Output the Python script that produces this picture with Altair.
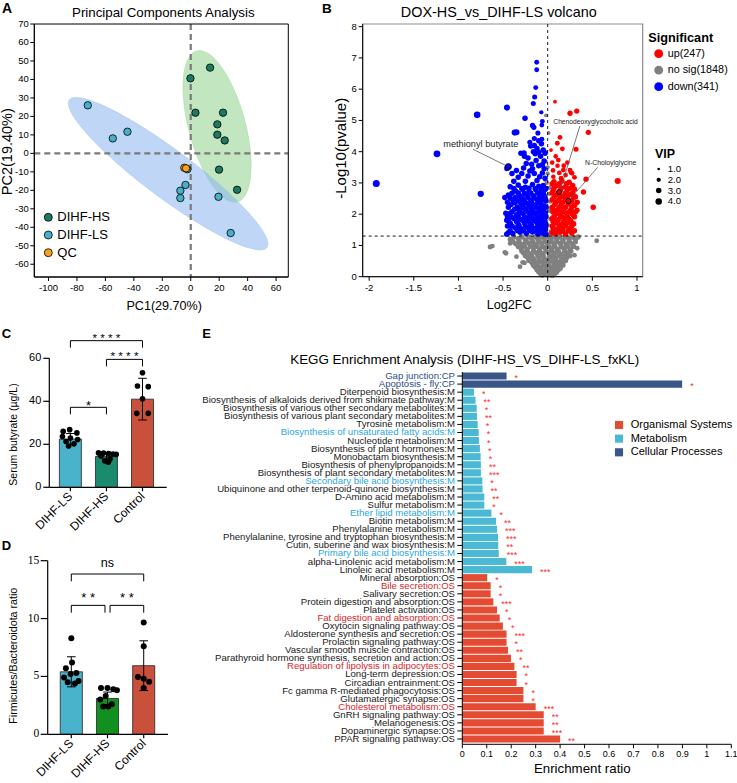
import altair as alt
import numpy as np
import pandas as pd

FONT = "Liberation Sans"
SERIF = "Liberation Serif"
W, H = 737, 783

# ======================= DATA =======================
# ---- A: PCA scores ----
pca_group = ["DIHF-LS"] * 9 + ["DIHF-HS"] * 9 + ["QC"] * 2
pca_pc1 = [-72.4, -54.8, -44.5, -3.7, -7.3, -7.3, 19.5, 28.1, -2.4,
           13.6, -0.2, 3.3, 22.7, 18.7, 18.7, 23.9, 19.9, 32.6,
           -4.5, -3.3]
pca_pc2 = [26.0, 8.1, 11.7, -17.1, -20.2, -24.2, -23.5, -43.1, -8.6,
           46.4, 40.6, 22.0, 22.0, 15.7, 10.1, 7.0, -8.8, -19.7,
           -7.8, -8.1]
group_names = ["DIHF-HS", "DIHF-LS", "QC"]
group_colors = ["#1d7a62", "#46b0ca", "#f5a31c"]
pc1_ticks = list(range(-100, 61, 20))
pc2_ticks = list(range(-60, 71, 10))
# confidence ellipses: centre, major and minor half-axis vectors
ell_group = ["DIHF-HS", "DIHF-LS"]
ell_center = [(18.5, 14.6), (-15.9, -11.0)]
ell_major = [(14.3, -40.8), (69.4, -39.9)]
ell_minor = [(19.2, 4.0), (10.1, 10.4)]
ell_fill = ["#8fd18a", "#8ab4f0"]

# ---- B: volcano (log2FC, -log10 p, VIP) ----
down_pts = [
    (-1.92, 2.98, 4.6), (-1.24, 3.93, 4.4), (-0.79, 5.18, 4.2), (-0.75, 2.65, 3.8),
    (-0.456, 5.41, 3.6), (-0.254, 5.07, 3.0), (-0.37, 4.61, 3.6), (-0.35, 4.62, 3.6),
    (-0.265, 3.96, 3.0), (-0.123, 6.86, 2.5), (-0.123, 6.62, 2.5), (-0.134, 6.05, 2.5),
    (-0.146, 5.75, 2.6), (-0.161, 5.54, 2.6), (-0.072, 5.26, 2.0), (-0.06, 4.97, 2.4),
    (-0.066, 4.85, 2.4), (-0.17, 4.84, 2.8), (-0.155, 4.78, 2.8), (-0.15, 4.42, 2.6),
    (-0.065, 4.40, 2.4), (-0.48, 2.53, 3.0), (-0.47, 2.03, 2.8), (-0.46, 1.81, 2.8),
    (-0.46, 1.36, 2.8), (-0.11, 4.60, 2.6), (-0.20, 4.30, 2.6), (-0.455, 3.47, 3.4),
    (-0.30, 3.95, 3.0), (-0.22, 3.80, 3.0), (-0.12, 4.10, 3.0), (-0.05, 4.05, 3.0),
    (-0.08, 3.85, 3.0), (-0.18, 3.60, 3.0), (-0.27, 3.48, 3.0), (-0.10, 3.55, 3.0),
    (-0.04, 3.70, 3.0), (-0.15, 3.30, 3.0), (-0.22, 3.22, 3.0), (-0.33, 3.18, 3.0),
    (-0.06, 3.32, 3.0), (-0.12, 3.08, 3.0), (-0.38, 3.05, 3.0), (-0.03, 3.15, 3.0),
    (-0.19, 4.18, 3.0), (-0.07, 4.25, 3.0), (-0.14, 3.93, 3.0), (-0.25, 3.05, 3.0),
    (-0.09, 3.20, 3.0), (-0.17, 3.45, 3.0), (-0.04, 3.45, 3.0), (-0.29, 3.30, 3.0),
    (-0.35, 3.40, 3.0), (-0.24, 3.62, 3.0), (-0.13, 3.72, 3.0), (-0.06, 3.58, 3.0),
    (-0.20, 3.38, 3.0), (-0.10, 3.98, 3.0), (-0.03, 3.95, 3.0), (-0.26, 3.85, 3.0),
    (-0.16, 4.00, 3.0), (-0.40, 3.30, 3.0), (-0.10, 4.35, 3.0), (-0.15, 4.20, 3.0),
    (-0.42, 2.88, 3.0), (-0.33, 2.93, 3.0), (-0.25, 2.86, 3.0), (-0.17, 2.95, 3.0),
    (-0.10, 2.89, 3.0), (-0.05, 2.92, 3.0), (-0.38, 2.82, 3.0), (-0.29, 2.82, 3.0),
    (-0.21, 2.83, 3.0), (-0.14, 2.81, 3.0), (-0.07, 2.84, 3.0), (-0.02, 2.82, 3.0),
    (-0.36, 2.74, 3.0), (-0.28, 2.78, 3.0), (-0.21, 2.72, 3.0), (-0.13, 2.77, 3.0),
    (-0.07, 2.73, 3.0), (-0.03, 2.79, 3.0), (-0.40, 2.67, 3.0), (-0.33, 2.68, 3.0),
    (-0.26, 2.66, 3.0), (-0.19, 2.68, 3.0), (-0.11, 2.67, 3.0), (-0.05, 2.68, 3.0),
    (-0.44, 2.61, 3.0), (-0.31, 2.58, 3.0), (-0.24, 2.63, 3.0), (-0.16, 2.59, 3.0),
    (-0.09, 2.62, 3.0), (-0.04, 2.57, 3.0), (-0.42, 2.52, 3.0), (-0.36, 2.53, 3.0),
    (-0.29, 2.51, 3.0), (-0.22, 2.53, 3.0), (-0.15, 2.52, 3.0), (-0.09, 2.51, 3.0),
    (-0.03, 2.52, 3.0), (-0.39, 2.46, 3.0), (-0.34, 2.43, 3.0), (-0.27, 2.47, 3.0),
    (-0.19, 2.44, 3.0), (-0.12, 2.48, 3.0), (-0.06, 2.45, 3.0), (-0.02, 2.42, 3.0),
    (-0.45, 2.38, 3.0), (-0.37, 2.37, 3.0), (-0.31, 2.38, 3.0), (-0.25, 2.37, 3.0),
    (-0.18, 2.38, 3.0), (-0.11, 2.37, 3.0), (-0.41, 2.31, 3.0), (-0.29, 2.28, 3.0),
    (-0.22, 2.32, 3.0), (-0.15, 2.29, 3.0), (-0.08, 2.33, 3.0), (-0.04, 2.27, 3.0),
    (-0.44, 2.22, 3.0), (-0.34, 2.23, 3.0), (-0.27, 2.21, 3.0), (-0.20, 2.23, 3.0),
    (-0.13, 2.22, 3.0), (-0.07, 2.21, 3.0), (-0.02, 2.22, 3.0), (-0.37, 2.16, 3.0),
    (-0.32, 2.13, 3.0), (-0.25, 2.17, 3.0), (-0.18, 2.14, 3.0), (-0.11, 2.18, 3.0),
    (-0.05, 2.12, 3.0), (-0.40, 2.08, 3.0), (-0.31, 2.07, 3.0), (-0.23, 2.08, 3.0),
    (-0.16, 2.07, 3.0), (-0.09, 2.08, 3.0), (-0.04, 2.07, 3.0), (-0.43, 2.01, 3.0),
    (-0.35, 1.98, 3.0), (-0.28, 2.03, 3.0), (-0.20, 1.99, 3.0), (-0.13, 2.02, 3.0),
    (-0.07, 1.97, 3.0), (-0.03, 2.04, 3.0), (-0.45, 1.93, 3.0), (-0.41, 1.92, 3.0),
    (-0.33, 1.93, 3.0), (-0.26, 1.92, 3.0), (-0.18, 1.93, 3.0), (-0.12, 1.92, 3.0),
    (-0.02, 1.93, 3.0), (-0.38, 1.86, 3.0), (-0.30, 1.83, 3.0), (-0.23, 1.87, 3.0),
    (-0.16, 1.84, 3.0), (-0.10, 1.88, 3.0), (-0.05, 1.82, 3.0), (-0.44, 1.78, 3.0),
    (-0.35, 1.77, 3.0), (-0.27, 1.78, 3.0), (-0.21, 1.77, 3.0), (-0.14, 1.78, 3.0),
    (-0.08, 1.77, 3.0), (-0.03, 1.78, 3.0), (-0.42, 1.71, 3.0), (-0.33, 1.68, 3.0),
    (-0.26, 1.72, 3.0), (-0.19, 1.69, 3.0), (-0.12, 1.73, 3.0), (-0.07, 1.67, 3.0),
    (-0.03, 1.70, 3.0), (-0.45, 1.62, 3.0), (-0.40, 1.62, 3.0), (-0.32, 1.63, 3.0),
    (-0.25, 1.62, 3.0), (-0.18, 1.63, 3.0), (-0.11, 1.62, 3.0), (-0.06, 1.63, 3.0),
    (-0.02, 1.62, 3.0), (-0.36, 1.56, 3.0), (-0.29, 1.53, 3.0), (-0.22, 1.57, 3.0),
    (-0.15, 1.54, 3.0), (-0.09, 1.58, 3.0), (-0.04, 1.52, 3.0), (-0.42, 1.47, 3.0),
    (-0.34, 1.48, 3.0), (-0.27, 1.47, 3.0), (-0.20, 1.48, 3.0), (-0.13, 1.47, 3.0),
    (-0.08, 1.48, 3.0), (-0.03, 1.47, 3.0), (-0.44, 1.41, 3.0), (-0.39, 1.38, 3.0),
    (-0.31, 1.42, 3.0), (-0.24, 1.39, 3.0), (-0.17, 1.43, 3.0), (-0.11, 1.37, 3.0),
    (-0.06, 1.40, 3.0), (-0.02, 1.36, 3.0),
]
up_pts = [
    (0.082, 5.60, 1.6), (0.25, 5.23, 2.8), (0.325, 5.30, 2.8), (0.455, 4.62, 2.8),
    (0.138, 4.46, 2.4), (0.108, 4.27, 2.4), (0.164, 4.09, 2.4), (0.317, 4.08, 2.6),
    (0.037, 4.05, 1.6), (0.119, 3.73, 2.4), (0.175, 3.41, 2.4), (0.25, 3.41, 2.4),
    (0.272, 3.31, 2.4), (0.429, 3.12, 2.8), (0.784, 3.06, 3.6), (0.063, 3.20, 2.2),
    (0.40, 2.71, 2.8), (0.51, 2.22, 3.0), (0.33, 2.13, 2.6), (0.26, 3.33, 2.4),
    (0.30, 3.18, 2.4), (0.20, 3.25, 2.4), (0.15, 3.15, 2.4), (0.11, 3.55, 2.2),
    (0.22, 3.65, 2.2), (0.06, 3.40, 2.4), (0.13, 3.32, 2.4), (0.09, 3.85, 2.2),
    (0.18, 3.55, 2.4), (0.05, 3.65, 2.2),
    (0.07, 3.04, 3.0), (0.16, 3.06, 3.0), (0.24, 3.02, 3.0), (0.05, 2.97, 3.0),
    (0.13, 2.97, 3.0), (0.21, 2.97, 3.0), (0.10, 2.91, 3.0), (0.20, 2.88, 3.0),
    (0.28, 2.92, 3.0), (0.07, 2.83, 3.0), (0.15, 2.83, 3.0), (0.25, 2.83, 3.0),
    (0.06, 2.76, 3.0), (0.14, 2.74, 3.0), (0.22, 2.78, 3.0), (0.30, 2.80, 3.0),
    (0.05, 2.68, 3.0), (0.12, 2.68, 3.0), (0.20, 2.68, 3.0), (0.28, 2.68, 3.0),
    (0.09, 2.61, 3.0), (0.17, 2.58, 3.0), (0.25, 2.63, 3.0), (0.31, 2.56, 3.0),
    (0.07, 2.53, 3.0), (0.14, 2.53, 3.0), (0.22, 2.53, 3.0), (0.29, 2.53, 3.0),
    (0.05, 2.46, 3.0), (0.12, 2.44, 3.0), (0.20, 2.48, 3.0), (0.27, 2.43, 3.0),
    (0.09, 2.38, 3.0), (0.17, 2.38, 3.0), (0.25, 2.38, 3.0), (0.33, 2.38, 3.0),
    (0.08, 2.31, 3.0), (0.15, 2.29, 3.0), (0.23, 2.33, 3.0), (0.30, 2.28, 3.0),
    (0.05, 2.22, 3.0), (0.13, 2.22, 3.0), (0.20, 2.22, 3.0), (0.27, 2.22, 3.0),
    (0.06, 2.16, 3.0), (0.11, 2.13, 3.0), (0.18, 2.17, 3.0), (0.26, 2.14, 3.0),
    (0.06, 2.07, 3.0), (0.16, 2.07, 3.0), (0.24, 2.07, 3.0), (0.31, 2.07, 3.0),
    (0.09, 2.01, 3.0), (0.14, 1.98, 3.0), (0.21, 2.03, 3.0), (0.28, 1.99, 3.0),
    (0.07, 1.92, 3.0), (0.16, 1.92, 3.0), (0.22, 1.92, 3.0), (0.30, 1.92, 3.0),
    (0.05, 1.86, 3.0), (0.12, 1.83, 3.0), (0.19, 1.87, 3.0), (0.24, 1.84, 3.0),
    (0.06, 1.77, 3.0), (0.10, 1.77, 3.0), (0.18, 1.77, 3.0), (0.26, 1.77, 3.0),
    (0.08, 1.71, 3.0), (0.15, 1.68, 3.0), (0.22, 1.72, 3.0), (0.29, 1.69, 3.0),
    (0.05, 1.62, 3.0), (0.13, 1.62, 3.0), (0.20, 1.62, 3.0), (0.27, 1.62, 3.0),
    (0.06, 1.56, 3.0), (0.11, 1.53, 3.0), (0.17, 1.57, 3.0), (0.25, 1.54, 3.0),
    (0.07, 1.47, 3.0), (0.12, 1.47, 3.0), (0.17, 1.47, 3.0), (0.23, 1.47, 3.0),
    (0.30, 1.47, 3.0), (0.05, 1.41, 3.0), (0.09, 1.38, 3.0), (0.14, 1.42, 3.0),
    (0.20, 1.37, 3.0), (0.27, 1.40, 3.0),
]
nosig_pts = [
    (0.549, 1.15, 2.4), (0.33, 0.91, 2.4), (-0.646, 0.95, 2.4), (-0.62, 0.98, 2.4),
    (-0.48, 0.78, 2.4), (-0.28, 0.46, 2.4), (-0.26, 0.44, 2.4), (0.30, 0.69, 2.4),
    (-0.467, 0.75, 2.4), (-0.42, 1.07, 2.4), (-0.35, 0.64, 2.4), (-0.31, 0.32, 2.4),
    (-0.02, 5.16, 1.6), (-0.02, 4.00, 1.8), (0.01, 4.60, 1.6), (-0.02, 3.68, 1.8),
    (0.00, 3.30, 2.0), (-0.01, 3.00, 2.0), (0.02, 2.85, 2.0), (-0.02, 2.60, 2.0),
    (0.03, 2.40, 2.0), (0.00, 2.20, 2.0), (-0.02, 2.00, 2.0), (0.03, 1.85, 2.0),
    (0.00, 1.65, 2.0), (-0.02, 1.50, 2.0), (0.035, 1.45, 2.0), (0.02, 2.65, 2.0),
    (-0.03, 3.10, 2.0), (0.01, 1.35, 2.0), (0.02, 2.10, 2.0), (0.00, 3.50, 1.8),
    (-0.38, 1.27, 2.8), (-0.29, 1.27, 2.8), (-0.21, 1.27, 2.8), (-0.14, 1.27, 2.8),
    (-0.07, 1.27, 2.8), (0.00, 1.27, 2.8), (0.06, 1.27, 2.8), (0.13, 1.27, 2.8),
    (0.20, 1.27, 2.8), (0.28, 1.27, 2.8), (0.34, 1.27, 2.8),
    (-0.42, 1.19, 2.8), (-0.33, 1.22, 2.8), (-0.25, 1.18, 2.8), (-0.18, 1.23, 2.8),
    (-0.11, 1.20, 2.8), (-0.04, 1.24, 2.8), (0.03, 1.19, 2.8), (0.10, 1.22, 2.8),
    (0.17, 1.18, 2.8), (0.24, 1.21, 2.8), (0.31, 1.20, 2.8),
    (-0.39, 1.12, 2.8), (-0.32, 1.12, 2.8), (-0.24, 1.12, 2.8), (-0.17, 1.12, 2.8),
    (-0.10, 1.12, 2.8), (-0.03, 1.12, 2.8), (0.04, 1.12, 2.8), (0.10, 1.12, 2.8),
    (0.17, 1.12, 2.8), (0.24, 1.12, 2.8), (0.31, 1.12, 2.8),
    (-0.36, 1.06, 2.8), (-0.28, 1.03, 2.8), (-0.21, 1.07, 2.8), (-0.14, 1.04, 2.8),
    (-0.07, 1.08, 2.8), (0.00, 1.05, 2.8), (0.07, 1.03, 2.8), (0.14, 1.07, 2.8),
    (0.21, 1.04, 2.8), (0.27, 1.06, 2.8),
    (-0.33, 0.97, 2.8), (-0.26, 0.97, 2.8), (-0.19, 0.97, 2.8), (-0.12, 0.97, 2.8),
    (-0.06, 0.97, 2.8), (0.01, 0.97, 2.8), (0.08, 0.97, 2.8), (0.15, 0.97, 2.8),
    (0.22, 0.97, 2.8), (0.29, 0.97, 2.8),
    (-0.30, 0.91, 2.8), (-0.23, 0.88, 2.8), (-0.16, 0.92, 2.8), (-0.09, 0.89, 2.8),
    (-0.03, 0.93, 2.8), (0.04, 0.90, 2.8), (0.11, 0.87, 2.8), (0.18, 0.91, 2.8),
    (0.25, 0.89, 2.8),
    (-0.29, 0.82, 2.8), (-0.23, 0.82, 2.8), (-0.16, 0.82, 2.8), (-0.09, 0.82, 2.8),
    (-0.02, 0.82, 2.8), (0.05, 0.82, 2.8), (0.12, 0.82, 2.8), (0.19, 0.82, 2.8),
    (0.26, 0.82, 2.8),
    (-0.27, 0.76, 2.8), (-0.20, 0.73, 2.8), (-0.13, 0.77, 2.8), (-0.06, 0.74, 2.8),
    (0.01, 0.78, 2.8), (0.08, 0.75, 2.8), (0.15, 0.72, 2.8), (0.22, 0.76, 2.8),
    (-0.25, 0.67, 2.8), (-0.18, 0.67, 2.8), (-0.11, 0.67, 2.8), (-0.05, 0.67, 2.8),
    (0.02, 0.67, 2.8), (0.06, 0.67, 2.8), (0.13, 0.67, 2.8), (0.20, 0.67, 2.8),
    (0.25, 0.67, 2.8),
    (-0.22, 0.61, 2.8), (-0.16, 0.58, 2.8), (-0.10, 0.62, 2.8), (-0.04, 0.59, 2.8),
    (0.03, 0.63, 2.8), (0.09, 0.60, 2.8), (0.16, 0.57, 2.8), (0.21, 0.61, 2.8),
    (-0.21, 0.52, 2.8), (-0.15, 0.52, 2.8), (-0.09, 0.52, 2.8), (-0.03, 0.52, 2.8),
    (0.03, 0.52, 2.8), (0.09, 0.52, 2.8), (0.15, 0.52, 2.8), (0.20, 0.52, 2.8),
    (-0.18, 0.46, 2.8), (-0.12, 0.43, 2.8), (-0.06, 0.47, 2.8), (0.00, 0.44, 2.8),
    (0.06, 0.48, 2.8), (0.12, 0.45, 2.8), (0.17, 0.42, 2.8),
    (-0.16, 0.37, 2.8), (-0.11, 0.37, 2.8), (-0.05, 0.37, 2.8), (0.01, 0.37, 2.8),
    (0.07, 0.37, 2.8), (0.12, 0.37, 2.8), (0.17, 0.37, 2.8),
    (-0.14, 0.31, 2.8), (-0.08, 0.28, 2.8), (-0.02, 0.32, 2.8), (0.04, 0.29, 2.8),
    (0.10, 0.33, 2.8), (0.14, 0.27, 2.8),
    (-0.12, 0.22, 2.8), (-0.07, 0.22, 2.8), (-0.02, 0.22, 2.8), (0.03, 0.22, 2.8),
    (0.08, 0.22, 2.8), (0.12, 0.22, 2.8),
    (-0.10, 0.16, 2.8), (-0.05, 0.13, 2.8), (0.00, 0.17, 2.8), (0.05, 0.14, 2.8),
    (0.10, 0.15, 2.8), (-0.08, 0.10, 2.8), (-0.03, 0.10, 2.8), (0.03, 0.10, 2.8),
    (0.08, 0.10, 2.8), (-0.06, 0.05, 2.8), (0.00, 0.06, 2.8), (0.05, 0.04, 2.8),
]
# labelled metabolites: name, log2FC, -log10 p, VIP, direction
lab_names = ["methionyl butyrate", "Chenodeoxyglycocholic acid", "N-Choloylglycine"]
lab_fc = [-0.441, 0.127, 0.231]
lab_p = [3.52, 2.71, 2.42]
lab_vip = [3.6, 2.4, 2.6]
lab_dir = ["down", "up", "up"]
sig_labels = ["up(247)", "no sig(1848)", "down(341)"]
sig_colors = ["#ff0000", "#808080", "#0000ff"]
vip_legend = [1.0, 2.0, 3.0, 4.0]
p_threshold = 1.3
fc_ticks = [-2, -1.5, -1, -0.5, 0, 0.5, 1]
logp_ticks = list(range(0, 9))

# ---- C: serum butyrate ----
bar_groups = ["DIHF-LS", "DIHF-HS", "Control"]
c_mean = [22.4, 14.3, 41.0]
c_sd = [2.6, 1.6, 9.7]
c_colors = ["#4ab3cc", "#1b8b6e", "#c9513c"]
c_vals = [[26.8, 26.0, 25.3, 23.6, 22.9, 22.2, 21.3, 20.2, 19.2],
          [16.0, 15.9, 15.7, 15.5, 15.3, 14.6, 13.2, 12.3, 11.7],
          [53.3, 47.1, 46.8, 41.2, 34.4, 34.4]]
c_jit = [[-0.02, -0.20, 0.18, -0.22, 0.00, 0.20, -0.12, 0.10, -0.05],
         [-0.22, -0.08, 0.06, 0.18, 0.27, -0.15, 0.10, -0.05, 0.05],
         [0.0, -0.14, 0.16, 0.0, -0.16, 0.16]]
c_ticks = [0, 20, 40, 60]
c_br_x1 = [0, 1, 0]
c_br_x2 = [2, 2, 1]
c_br_y = [68.2, 59.5, 37.2]
c_br_lab = ["* * * *", "* * * *", "*"]

# ---- D: Firmicutes/Bacteroidota ----
d_mean = [5.4, 3.1, 5.93]
d_sd = [1.3, 0.55, 2.15]
d_colors = ["#4ab3cc", "#12901f", "#c9513c"]
d_vals = [[8.3, 6.2, 5.7, 5.3, 5.2, 4.9, 4.6, 4.5, 4.4],
          [4.0, 4.0, 3.9, 3.8, 3.3, 3.0, 2.6, 2.4, 2.4],
          [9.65, 7.6, 4.95, 4.8, 4.55, 4.0]]
d_jit = [[0.0, 0.02, -0.15, 0.14, -0.02, -0.20, 0.20, -0.10, 0.10],
         [-0.18, 0.0, 0.16, 0.26, -0.05, -0.20, 0.12, -0.12, 0.02],
         [0.0, 0.0, -0.16, 0.0, 0.15, 0.0]]
d_ticks = [0, 5, 10, 15]
d_br_x1 = [0, 0, 1.07]
d_br_x2 = [2, 0.93, 2]
d_br_y = [13.85, 11.14, 11.14]
d_br_lab = ["ns", "* *", "* *"]

# ---- E: KEGG enrichment ----
kegg_terms = [
    "Gap junction:CP", "Apoptosis - fly:CP", "Diterpenoid biosynthesis:M",
    "Biosynthesis of alkaloids derived from shikimate pathway:M",
    "Biosynthesis of various other secondary metabolites:M",
    "Biosynthesis of various plant secondary metabolites:M", "Tyrosine metabolism:M",
    "Biosynthesis of unsaturated fatty acids:M", "Nucleotide metabolism:M",
    "Biosynthesis of plant hormones:M", "Monobactam biosynthesis:M",
    "Biosynthesis of phenylpropanoids:M", "Biosynthesis of plant secondary metabolites:M",
    "Secondary bile acid biosynthesis:M", "Ubiquinone and other terpenoid-quinone biosynthesis:M",
    "D-Amino acid metabolism:M", "Sulfur metabolism:M", "Ether lipid metabolism:M",
    "Biotin metabolism:M", "Phenylalanine metabolism:M",
    "Phenylalanine, tyrosine and tryptophan biosynthesis:M",
    "Cutin, suberine and wax biosynthesis:M", "Primary bile acid biosynthesis:M",
    "alpha-Linolenic acid metabolism:M", "Linoleic acid metabolism:M",
    "Mineral absorption:OS", "Bile secretion:OS", "Salivary secretion:OS",
    "Protein digestion and absorption:OS", "Platelet activation:OS",
    "Fat digestion and absorption:OS", "Oxytocin signaling pathway:OS",
    "Aldosterone synthesis and secretion:OS", "Prolactin signaling pathway:OS",
    "Vascular smooth muscle contraction:OS",
    "Parathyroid hormone synthesis, secretion and action:OS",
    "Regulation of lipolysis in adipocytes:OS", "Long-term depression:OS",
    "Circadian entrainment:OS", "Fc gamma R-mediated phagocytosis:OS",
    "Glutamatergic synapse:OS", "Cholesterol metabolism:OS", "GnRH signaling pathway:OS",
    "Melanogenesis:OS", "Dopaminergic synapse:OS", "PPAR signaling pathway:OS",
]
kegg_ratio = [0.181, 0.899, 0.048, 0.054, 0.059, 0.060, 0.063, 0.067, 0.068, 0.072,
              0.075, 0.076, 0.076, 0.082, 0.083, 0.090, 0.090, 0.119, 0.138, 0.142,
              0.146, 0.147, 0.149, 0.180, 0.285,
              0.102, 0.116, 0.116, 0.127, 0.142, 0.153, 0.166, 0.181, 0.181, 0.187,
              0.199, 0.213, 0.222, 0.222, 0.250, 0.250, 0.300, 0.333, 0.333, 0.333, 0.400]
kegg_class = ["CP"] * 2 + ["M"] * 23 + ["OS"] * 21
kegg_sig = ["*", "*", "*", "**", "*", "**", "*", "*", "*", "*", "*", "**", "***", "*", "**",
            "**", "*", "*", "**", "***", "***", "**", "***", "***", "***",
            "*", "*", "*", "***", "*", "*", "*", "***", "*", "**", "*", "**", "*", "*",
            "*", "*", "***", "**", "**", "***", "**"]
kegg_highlight = ["Biosynthesis of unsaturated fatty acids:M", "Secondary bile acid biosynthesis:M",
                  "Ether lipid metabolism:M", "Primary bile acid biosynthesis:M",
                  "Bile secretion:OS", "Fat digestion and absorption:OS",
                  "Regulation of lipolysis in adipocytes:OS", "Cholesterol metabolism:OS"]
class_names = ["Organismal Systems", "Metabolism", "Cellular Processes"]
class_keys = ["OS", "M", "CP"]
class_colors = ["#e34b33", "#4bb8d4", "#3a5588"]
ratio_ticks = [round(0.1 * i, 1) for i in range(12)]


# ======================= HELPERS =======================
def sc(domain, rng):
    return alt.Scale(domain=domain, range=rng, nice=False, zero=False)


ONE = pd.DataFrame({"a": [0]})


def fmt(v):
    return f"{v:g}"


def axis_x(xs, values, labels, y0, x0, x1, tick=4, pad=2, size=9.5, font=FONT,
           angle=0, align="center", baseline="top", sw=1.0):
    d = pd.DataFrame({"v": values, "lab": labels})
    return [
        alt.Chart(ONE).mark_rule(color="black", strokeWidth=sw).encode(
            x=alt.value(x0), x2=alt.value(x1), y=alt.value(y0)),
        alt.Chart(d).mark_rule(color="black", strokeWidth=sw).encode(
            x=alt.X("v:Q", scale=xs, axis=None), y=alt.value(y0), y2=alt.value(y0 + tick)),
        alt.Chart(d).mark_text(color="black", fontSize=size, font=font, angle=angle,
                               align=align, baseline=baseline).encode(
            x=alt.X("v:Q", scale=xs, axis=None), y=alt.value(y0 + tick + pad), text="lab:N"),
    ]


def axis_y(ys, values, labels, x0, y_top, y_bot, tick=4, pad=2, size=9.5, font=FONT,
           show_labels=True, sw=1.0):
    d = pd.DataFrame({"v": values, "lab": labels})
    out = [
        alt.Chart(ONE).mark_rule(color="black", strokeWidth=sw).encode(
            x=alt.value(x0), y=alt.value(y_top), y2=alt.value(y_bot)),
        alt.Chart(d).mark_rule(color="black", strokeWidth=sw).encode(
            y=alt.Y("v:Q", scale=ys, axis=None), x=alt.value(x0 - tick), x2=alt.value(x0)),
    ]
    if show_labels:
        out.append(alt.Chart(d).mark_text(color="black", fontSize=size, font=font,
                                          align="right", baseline="middle").encode(
            y=alt.Y("v:Q", scale=ys, axis=None), x=alt.value(x0 - tick - pad), text="lab:N"))
    return out


def txt(s, x, y, size=10, weight="normal", angle=0, align="left",
        baseline="alphabetic", color="black", font=FONT):
    return alt.Chart(pd.DataFrame({"t": [s]})).mark_text(
        fontSize=size, fontWeight=weight, angle=angle, align=align,
        baseline=baseline, color=color, font=font
    ).encode(text="t:N", x=alt.value(x), y=alt.value(y))


def frame(x0, x1, y0, y1, color, width=1.0):
    return alt.Chart(ONE).mark_rect(fillOpacity=0, stroke=color, strokeWidth=width).encode(
        x=alt.value(x0), x2=alt.value(x1), y=alt.value(y0), y2=alt.value(y1))


children = []

# ======================= PANEL A =======================
xA = sc([-110, 68.6], [34.3, 288.3])
yA = sc([-66.9, 70], [277, 24])
tt = np.linspace(0, 2 * np.pi, 120, endpoint=False)
ell_rows = []
for g, (cx, cy), (mx, my), (nx, ny) in zip(ell_group, ell_center, ell_major, ell_minor):
    for k, t in enumerate(tt):
        ell_rows.append({"group": g, "k": k,
                         "x": cx + mx * np.cos(t) + nx * np.sin(t),
                         "y": cy + my * np.cos(t) + ny * np.sin(t)})
ell_df = pd.DataFrame(ell_rows)
A_layers = []
for g, c in zip(ell_group, ell_fill):
    A_layers.append(
        alt.Chart(ell_df).transform_filter(alt.datum.group == g).mark_line(
            interpolate="linear-closed", fill=c, fillOpacity=0.55, stroke=c,
            strokeOpacity=0.5, strokeWidth=0.8
        ).encode(x=alt.X("x:Q", scale=xA, axis=None), y=alt.Y("y:Q", scale=yA, axis=None),
                 order="k:Q"))
zero_df = pd.DataFrame({"z": [0]})
A_layers.append(alt.Chart(zero_df).mark_rule(color="#7a7a7a", strokeWidth=2.2, strokeDash=[6, 4])
                .encode(x=alt.X("z:Q", scale=xA, axis=None), y=alt.value(24), y2=alt.value(277)))
A_layers.append(alt.Chart(zero_df).mark_rule(color="#7a7a7a", strokeWidth=2.2, strokeDash=[6, 4])
                .encode(y=alt.Y("z:Q", scale=yA, axis=None), x=alt.value(34.3), x2=alt.value(288.3)))
pca_df = pd.DataFrame({"group": pca_group, "pc1": pca_pc1, "pc2": pca_pc2})
pca_df["col"] = pca_df["group"].map(dict(zip(group_names, group_colors)))
A_layers.append(alt.Chart(pca_df).mark_circle(size=55, opacity=1, stroke="black", strokeWidth=0.8)
                .encode(x=alt.X("pc1:Q", scale=xA, axis=None), y=alt.Y("pc2:Q", scale=yA, axis=None),
                        fill=alt.Fill("col:N", scale=None)))
A_layers.append(frame(34.3, 288.3, 24, 277, "black", 1.0))
A_layers += axis_x(xA, pc1_ticks, [fmt(v) for v in pc1_ticks], 277, 34.3, 288.3)
A_layers += axis_y(yA, pc2_ticks, [fmt(v) for v in pc2_ticks], 34.3, 24, 277, pad=1.5)
children.append(alt.layer(*A_layers))
legA = pd.DataFrame({"g": group_names, "col": group_colors})
legA["py"] = 217.3 + 17.7 * np.arange(len(legA))
children.append(alt.Chart(legA).mark_circle(size=64, opacity=1, stroke="black", strokeWidth=0.8)
                .encode(x=alt.value(48.3), y=alt.Y("py:Q", scale=None, axis=None),
                        fill=alt.Fill("col:N", scale=None)))
children.append(alt.Chart(legA).mark_text(align="left", baseline="middle", fontSize=13, font=FONT,
                                          color="black")
                .encode(x=alt.value(57.3), y=alt.Y("py:Q", scale=None, axis=None), text="g:N"))

# ======================= PANEL B =======================
xB = sc([-2.072, 1.064], [362.7, 642.7])
yB = sc([0, 8.085], [276.7, 24])
vip_scale = alt.Scale(domain=[1, 4], range=[7, 42], zero=False, nice=False)


def vdf(pts):
    return pd.DataFrame(pts, columns=["fc", "p", "vip"])


B_layers = [frame(362.7, 642.7, 24, 276.7, "#8c8c8c", 1.2)]
for pts, col in [(nosig_pts, sig_colors[1]), (down_pts, sig_colors[2]), (up_pts, sig_colors[0])]:
    B_layers.append(alt.Chart(vdf(pts)).mark_circle(opacity=1, color=col).encode(
        x=alt.X("fc:Q", scale=xB, axis=None), y=alt.Y("p:Q", scale=yB, axis=None),
        size=alt.Size("vip:Q", scale=vip_scale, legend=None)))
lab_df = pd.DataFrame({"name": lab_names, "fc": lab_fc, "p": lab_p, "vip": lab_vip, "dir": lab_dir})
lab_df["col"] = lab_df["dir"].map({"up": sig_colors[0], "down": sig_colors[2]})
B_layers.append(alt.Chart(lab_df).mark_circle(opacity=1, stroke="black", strokeWidth=1).encode(
    x=alt.X("fc:Q", scale=xB, axis=None), y=alt.Y("p:Q", scale=yB, axis=None),
    size=alt.Size("vip:Q", scale=vip_scale, legend=None), fill=alt.Fill("col:N", scale=None)))
thr_df = pd.DataFrame({"p": [p_threshold], "fc": [0]})
B_layers.append(alt.Chart(thr_df).mark_rule(color="black", strokeWidth=0.9, strokeDash=[3, 3])
                .encode(y=alt.Y("p:Q", scale=yB, axis=None), x=alt.value(362.7), x2=alt.value(642.7)))
B_layers.append(alt.Chart(thr_df).mark_rule(color="black", strokeWidth=0.9, strokeDash=[3, 3])
                .encode(x=alt.X("fc:Q", scale=xB, axis=None), y=alt.value(24), y2=alt.value(276.7)))
lead_df = pd.DataFrame({"x": [-0.836, 0.36, 0.56], "y": [4.077, 4.82, 3.50],
                        "x2": [-0.478, 0.14, 0.25], "y2": [3.57, 2.76, 2.48]})
B_layers.append(alt.Chart(lead_df).mark_rule(color="#555555", strokeWidth=0.8).encode(
    x=alt.X("x:Q", scale=xB, axis=None), y=alt.Y("y:Q", scale=yB, axis=None), x2="x2:Q", y2="y2:Q"))
ann = pd.DataFrame({"name": lab_names, "x": [-0.749, 0.063, 0.418], "y": [4.246, 4.94, 3.64]})
for i, (al, fs) in enumerate([("center", 9.2), ("left", 6.7), ("left", 6.85)]):
    B_layers.append(alt.Chart(ann.iloc[[i]]).mark_text(align=al, baseline="middle", fontSize=fs,
                                                       font=FONT, color="#222222").encode(
        x=alt.X("x:Q", scale=xB, axis=None), y=alt.Y("y:Q", scale=yB, axis=None), text="name:N"))
B_layers += axis_x(xB, fc_ticks, [fmt(v) for v in fc_ticks], 276.7, 362.7, 642.7)
B_layers += axis_y(yB, logp_ticks, [fmt(v) for v in logp_ticks], 362.7, 24, 276.7)
children.append(alt.layer(*B_layers))
# legends for B
legB = pd.DataFrame({"lab": sig_labels, "col": sig_colors})
legB["py"] = 53.7 + 16.5 * np.arange(len(legB))
children.append(alt.Chart(legB).mark_circle(size=78, opacity=1).encode(
    x=alt.value(658.7), y=alt.Y("py:Q", scale=None, axis=None), fill=alt.Fill("col:N", scale=None)))
children.append(alt.Chart(legB).mark_text(align="left", baseline="middle", fontSize=10.8, font=FONT,
                                          color="black").encode(
    x=alt.value(667.7), y=alt.Y("py:Q", scale=None, axis=None), text="lab:N"))
legV = pd.DataFrame({"vip": vip_legend})
legV["lab"] = [f"{v:.1f}" for v in vip_legend]
legV["py"] = 169 + 10.8 * np.arange(len(legV))
children.append(alt.Chart(legV).mark_circle(opacity=1, color="black").encode(
    x=alt.value(658.7), y=alt.Y("py:Q", scale=None, axis=None),
    size=alt.Size("vip:Q", scale=vip_scale, legend=None)))
children.append(alt.Chart(legV).mark_text(align="left", baseline="middle", fontSize=9.6, font=FONT,
                                          color="black").encode(
    x=alt.value(667.7), y=alt.Y("py:Q", scale=None, axis=None), text="lab:N"))


# ======================= PANELS C & D =======================
def bar_panel(xs, ys, means, sds, colors, vals, jits, bx1, bx2, by, blab,
              drop, dot_size, star_specs, axes):
    bar_half, cap = 0.305, 0.12
    df = pd.DataFrame({"g": bar_groups, "pos": [0, 1, 2], "mean": means, "sd": sds, "col": colors})
    df["x1"] = df["pos"] - bar_half
    df["x2"] = df["pos"] + bar_half
    df["base"] = 0.0
    df["lo"] = df["mean"] - df["sd"]
    df["hi"] = df["mean"] + df["sd"]
    df["cl"] = df["pos"] - cap
    df["cr"] = df["pos"] + cap
    rows = []
    for k, (vv, jj) in enumerate(zip(vals, jits)):
        for v, j in zip(vv, jj):
            rows.append({"x": k + j, "v": v})
    dots = pd.DataFrame(rows)
    br = pd.DataFrame({"x1": bx1, "x2": bx2, "y": by, "lab": blab})
    br["ylo"] = br["y"] - drop
    br["xm"] = (br["x1"] + br["x2"]) / 2
    L = [
        alt.Chart(df).mark_rect(stroke="#222222", strokeWidth=0.8).encode(
            x=alt.X("x1:Q", scale=xs, axis=None), x2="x2:Q",
            y=alt.Y("base:Q", scale=ys, axis=None), y2="mean:Q",
            fill=alt.Fill("col:N", scale=None)),
        alt.Chart(df).mark_rule(color="black", strokeWidth=1).encode(
            x=alt.X("pos:Q", scale=xs, axis=None), y=alt.Y("lo:Q", scale=ys, axis=None), y2="hi:Q"),
        alt.Chart(df).mark_rule(color="black", strokeWidth=1).encode(
            x=alt.X("cl:Q", scale=xs, axis=None), x2="cr:Q", y=alt.Y("hi:Q", scale=ys, axis=None)),
        alt.Chart(df).mark_rule(color="black", strokeWidth=1).encode(
            x=alt.X("cl:Q", scale=xs, axis=None), x2="cr:Q", y=alt.Y("lo:Q", scale=ys, axis=None)),
        alt.Chart(dots).mark_circle(size=dot_size, opacity=1, color="black").encode(
            x=alt.X("x:Q", scale=xs, axis=None), y=alt.Y("v:Q", scale=ys, axis=None)),
        alt.Chart(br).mark_rule(color="black", strokeWidth=1).encode(
            x=alt.X("x1:Q", scale=xs, axis=None), x2="x2:Q", y=alt.Y("y:Q", scale=ys, axis=None)),
        alt.Chart(br).mark_rule(color="black", strokeWidth=1).encode(
            x=alt.X("x1:Q", scale=xs, axis=None), y=alt.Y("y:Q", scale=ys, axis=None), y2="ylo:Q"),
        alt.Chart(br).mark_rule(color="black", strokeWidth=1).encode(
            x=alt.X("x2:Q", scale=xs, axis=None), y=alt.Y("y:Q", scale=ys, axis=None), y2="ylo:Q"),
    ]
    for lab, fs, dy in star_specs:
        L.append(alt.Chart(br).transform_filter(alt.datum.lab == lab).mark_text(
            align="center", baseline="alphabetic", fontSize=fs, dy=dy, font=FONT, color="black").encode(
            x=alt.X("xm:Q", scale=xs, axis=None), y=alt.Y("y:Q", scale=ys, axis=None), text="lab:N"))
    return alt.layer(*(L + axes))


xC = sc([-0.585, 2.671], [49.3, 166.7])
yC = sc([0, 60], [487.3, 358.3])
axesC = (axis_x(xC, [0, 1, 2], bar_groups, 487.3, 49.3, 166.7, tick=4, pad=3, size=12,
                angle=315, align="right", baseline="middle", sw=1.2)
         + axis_y(yC, c_ticks, [fmt(v) for v in c_ticks], 49.3, 358.3, 487.3, tick=6, size=11, sw=1.2))
children.append(bar_panel(xC, yC, c_mean, c_sd, c_colors, c_vals, c_jit,
                          c_br_x1, c_br_x2, c_br_y, c_br_lab, 7 / 2.15, 32,
                          [("* * * *", 11.7, 1), ("*", 12.8, 3)], axesC))

xD = sc([-0.652, 2.671], [47.7, 168])
yD = sc([0, 15], [734.3, 560.7])
axesD = (axis_x(xD, [0, 1, 2], bar_groups, 734.3, 47.7, 168, tick=4, pad=3, size=12,
                angle=315, align="right", baseline="middle", sw=1.2)
         + axis_y(yD, d_ticks, [fmt(v) for v in d_ticks], 47.7, 560.7, 734.3, tick=7, pad=1.5,
                  size=11.5, font=SERIF, sw=1.2))
children.append(bar_panel(xD, yD, d_mean, d_sd, d_colors, d_vals, d_jit,
                          d_br_x1, d_br_x2, d_br_y, d_br_lab, 7.3 / 11.57, 36,
                          [("ns", 12.6, -7.3), ("* *", 13, -3.4)], axesD))

# ======================= PANEL E =======================
xE = sc([0, 1.1], [462.3, 731.3])
yE = sc([0.343, 46.5], [744.3, 372])
kd = pd.DataFrame({"term": kegg_terms, "ratio": kegg_ratio, "cls": kegg_class, "sig": kegg_sig})
kd["row"] = len(kd) - np.arange(len(kd))
kd["y1"] = kd["row"] - 0.44
kd["y2"] = kd["row"] + 0.44
kd["zero"] = 0.0
kd["bar_col"] = kd["cls"].map(dict(zip(class_keys, class_colors)))


def label_color(term, cls):
    if cls == "CP":
        return "#2f4e8c"
    if term in kegg_highlight:
        return "#2aa9e0" if cls == "M" else "#d7262b"
    return "#1a1a1a"


kd["lab_col"] = [label_color(t, c) for t, c in zip(kd["term"], kd["cls"])]
rows_list = list(kd["row"])
E_layers = [
    alt.Chart(kd).mark_rect().encode(
        x=alt.X("zero:Q", scale=xE, axis=None), x2="ratio:Q",
        y=alt.Y("y1:Q", scale=yE, axis=None), y2="y2:Q", fill=alt.Fill("bar_col:N", scale=None)),
    alt.Chart(kd).mark_text(align="right", baseline="middle", fontSize=9.6, font=FONT).encode(
        x=alt.value(455), y=alt.Y("row:Q", scale=yE, axis=None), text="term:N",
        color=alt.Color("lab_col:N", scale=None)),
    alt.Chart(kd).mark_text(align="left", baseline="alphabetic", fontSize=9, dx=8, dy=5,
                            color="#ff2b2b", font=FONT).encode(
        x=alt.X("ratio:Q", scale=xE, axis=None), y=alt.Y("row:Q", scale=yE, axis=None), text="sig:N"),
]
E_layers += axis_x(xE, ratio_ticks, [fmt(v) for v in ratio_ticks], 744.3, 462.3, 731.3, size=9)
E_layers += axis_y(yE, rows_list, ["" for _ in rows_list], 462.3, 372, 744.3, tick=5, show_labels=False)
children.append(alt.layer(*E_layers))
legE = pd.DataFrame({"name": class_names, "col": class_colors})
legE["py"] = 425 + 13.65 * np.arange(len(legE))
children.append(alt.Chart(legE).mark_square(size=66, opacity=1).encode(
    x=alt.value(619), y=alt.Y("py:Q", scale=None, axis=None), fill=alt.Fill("col:N", scale=None)))
children.append(alt.Chart(legE).mark_text(align="left", baseline="middle", fontSize=11, font=FONT,
                                          color="black").encode(
    x=alt.value(630.7), y=alt.Y("py:Q", scale=None, axis=None), text="name:N"))

# ======================= TEXT =======================
children += [
    txt("A", 2, 13.3, 14, "bold"),
    txt("B", 322, 13.3, 13.5, "bold"),
    txt("C", 1.7, 338.3, 13, "bold"),
    txt("D", 1.7, 550, 13, "bold"),
    txt("E", 202.3, 338.3, 13, "bold"),
    txt("Principal Components Analysis", 163.3, 17.3, 13.3, align="center"),
    txt("DOX-HS_vs_DIHF-LS volcano", 498.8, 17.3, 14.4, align="center"),
    txt("PC1(29.70%)", 164.2, 309.5, 12.6, align="center"),
    txt("PC2(19.40%)", 8.3, 151.7, 14.5, angle=270, align="center", baseline="middle"),
    txt("Log2FC", 509.2, 309, 12.7, align="center"),
    txt("-Log10(pvalue)", 340.8, 148.3, 15, angle=270, align="center", baseline="middle"),
    txt("Serum butyrate (µg/L)", 14.2, 434.5, 10.5, angle=270, align="center", baseline="middle"),
    txt("Firmicutes/Bacteroidota ratio", 14.2, 655.7, 10.7, angle=270, align="center", baseline="middle"),
    txt("KEGG Enrichment Analysis (DIHF-HS_VS_DIHF-LS_fxKL)", 464.7, 364, 13.4, align="center"),
    txt("Enrichment ratio", 582.3, 773, 13.3, align="center"),
    txt("Significant", 648.3, 41.7, 12.7, "bold"),
    txt("VIP", 655, 158.3, 12.4, "bold"),
]

chart = alt.layer(*children).resolve_scale(
    x="independent", y="independent", size="independent", color="independent", fill="independent"
).properties(
    width=W, height=H, padding=0, autosize=alt.AutoSizeParams(type="none")
).configure(font=FONT).configure_view(stroke="transparent")

chart.save("out.html", embed_options={"renderer": "svg", "actions": False})
